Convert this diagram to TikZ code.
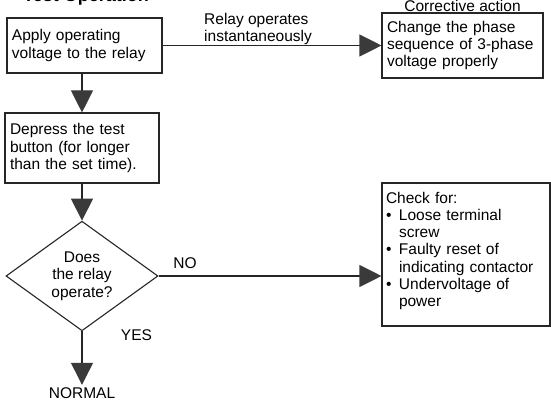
\documentclass[tikz,border=0pt]{standalone}
\usepackage{fontspec}
\setmainfont{Liberation Sans}
\usetikzlibrary{arrows.meta,shapes.geometric}
\definecolor{linec}{HTML}{262626}
\definecolor{headc}{HTML}{3A3A3A}
\begin{document}
\begin{tikzpicture}[x=1pt,y=-1pt,
  every node/.style={font=\fontsize{15.5}{17.3}\selectfont, text=black},
  box/.style={draw=linec, line width=1.1pt, rectangle, inner xsep=5pt, inner ysep=0pt, align=left},
  dec/.style={draw=linec, line width=1.1pt, diamond, inner sep=0pt, minimum width=152pt, minimum height=102pt, align=center},
  conn/.style={draw=linec, line width=1.1pt, -{Triangle[length=22pt,width=22pt,fill=headc,color=headc]}},
  lbl/.style={inner sep=0pt}
]
\useasboundingbox (0,0) rectangle (551,401);
\fill[white] (0,0) rectangle (551,401);

\node[lbl, anchor=base west, font=\bfseries\fontsize{18}{20}\selectfont] (title) at (23,1.5) {Test Operation};

\node[box, text width=145pt, minimum height=55pt] (apply) at (84.5,45.5) {Apply operating\\voltage to the relay};
\node[box, text width=144pt, minimum height=70pt] (depress) at (82,148) {Depress the test\\button (for longer\\than the set time).};
\node[dec] (does) at (82,276) {Does\\the relay\\operate?};
\node[lbl, inner sep=2.5pt] (normal) at (82,393) {NORMAL};

\node[box, text width=151pt, minimum height=65pt] (change) at (462.5,45.5) {Change the phase\\sequence of 3-phase\\voltage properly};
\node[lbl, anchor=south, inner sep=1pt] (corr) at (change.north) {Corrective action};

\node[box, inner xsep=4pt, text width=160pt, minimum height=143pt] (check) at (466,254.5)
  {Check for:\\
   \makebox[13pt][l]{•}Loose terminal\\
   \hspace*{13pt}screw\\
   \makebox[13pt][l]{•}Faulty reset of\\
   \hspace*{13pt}indicating contactor\\
   \makebox[13pt][l]{•}Undervoltage of\\
   \hspace*{13pt}power\\[-7pt]\mbox{}};

\node[lbl, align=left, anchor=west] (relay) at (204,29) {Relay operates\\instantaneously};
\node[lbl] (no) at (185,263) {NO};
\node[lbl] (yes) at (136.5,335) {YES};

\draw[conn] (apply.south -| depress.north) -- (depress.north);
\draw[conn] (depress.south) -- (does.north);
\draw[conn] (does.south) -- (normal.north);
\draw[conn] (apply.east) -- (change.west);
\draw[conn] (does.east) -- (does.east -| check.west);
\end{tikzpicture}
\end{document}
